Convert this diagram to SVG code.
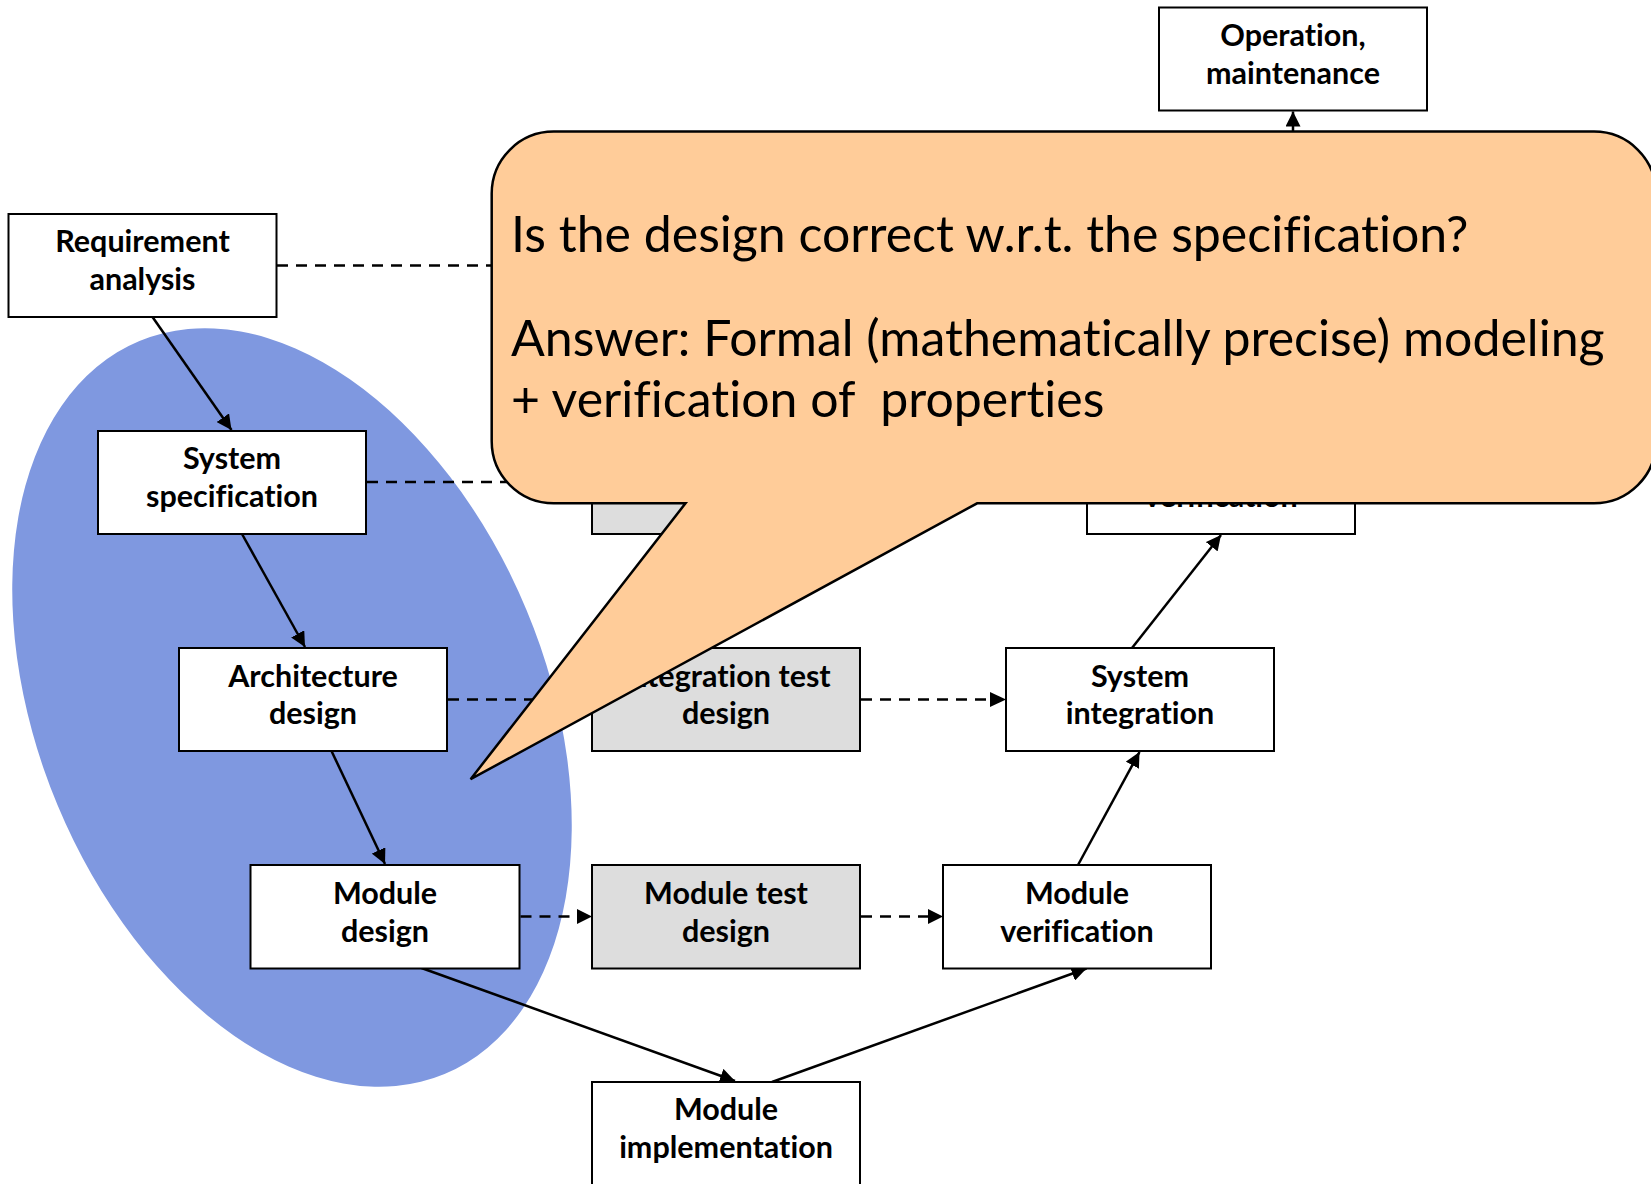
<svg xmlns="http://www.w3.org/2000/svg" width="1651" height="1184" viewBox="0 0 1651 1184">
  <style>
    .box { fill: #ffffff; stroke: #000000; stroke-width: 2; }
    .test { fill: #dddddd; stroke: #000000; stroke-width: 2; }
    .label { font-family: Lato, "Liberation Sans", sans-serif; font-weight: 700; font-size: 30.5px; fill: #000000; text-anchor: middle; font-variant-ligatures: none; }
    .flow { stroke: #000000; stroke-width: 2.5; fill: none; marker-end: url(#arrow); }
    .dash { stroke: #000000; stroke-width: 2.5; fill: none; stroke-dasharray: 11 8; }
    .note { font-family: Lato, "Liberation Sans", sans-serif; font-size: 50px; fill: #000000; font-variant-ligatures: none; }
  </style>
  <defs>
    <marker id="arrow" markerUnits="userSpaceOnUse" markerWidth="16" markerHeight="15" refX="15" refY="7.5" orient="auto">
      <path d="M0,0 L15,7.5 L0,15 Z" fill="#000000"/>
    </marker>
  </defs>

  <rect width="1651" height="1184" fill="#ffffff"/>

  <!-- highlighted design phase -->
  <ellipse id="design-phase" cx="292" cy="707.5" rx="254" ry="397" transform="rotate(-22.6 292 707.5)" fill="#7f98e0"/>

  <!-- connectors -->
  <g id="connectors">
    <line class="flow" x1="152.5" y1="317" x2="231.5" y2="430"/>
    <line class="flow" x1="242" y1="534" x2="305" y2="647"/>
    <line class="flow" x1="331.5" y1="751" x2="385" y2="864"/>
    <line class="flow" x1="421.5" y1="968" x2="735" y2="1081"/>
    <line class="flow" x1="772" y1="1082" x2="1086.5" y2="968.5"/>
    <line class="flow" x1="1078" y1="865" x2="1139.5" y2="752"/>
    <line class="flow" x1="1132" y1="648" x2="1221" y2="535"/>
    <line class="flow" x1="1293" y1="214" x2="1293" y2="111.5"/>
    <line class="dash" x1="277" y1="265.5" x2="520" y2="265.5"/>
    <line class="dash" x1="367" y1="482" x2="560" y2="482"/>
    <line class="dash" x1="448" y1="699.5" x2="580" y2="699.5"/>
    <line class="dash" x1="861" y1="699.5" x2="990" y2="699.5"/>
    <path d="M990,692 L1006,699.5 L990,707 Z" fill="#000000"/>
    <line class="dash" x1="520.5" y1="916.5" x2="578" y2="916.5"/>
    <path d="M577,909 L592,916.5 L577,924 Z" fill="#000000"/>
    <line class="dash" x1="861" y1="916.5" x2="929" y2="916.5"/>
    <path d="M928,909 L943,916.5 L928,924 Z" fill="#000000"/>
  </g>

  <!-- nodes -->
  <g id="operation-maintenance">
    <rect class="box" x="1159" y="7.5" width="268" height="103"/>
    <text class="label" x="1293" y="46">Operation,</text>
    <text class="label" x="1293" y="83.5">maintenance</text>
  </g>
  <g id="requirement-analysis">
    <rect class="box" x="8.5" y="214" width="268" height="103"/>
    <text class="label" x="142.5" y="252">Requirement</text>
    <text class="label" x="142.5" y="289.5">analysis</text>
  </g>
  <g id="system-specification">
    <rect class="box" x="98" y="431" width="268" height="103"/>
    <text class="label" x="232" y="469">System</text>
    <text class="label" x="232" y="506.5">specification</text>
  </g>
  <g id="system-test-design">
    <rect class="test" x="592" y="431" width="268" height="103"/>
  </g>
  <g id="system-verification">
    <rect class="box" x="1087" y="431" width="268" height="103"/>
    <text class="label" x="1221" y="507">verification</text>
  </g>
  <g id="architecture-design">
    <rect class="box" x="179" y="648" width="268" height="103"/>
    <text class="label" x="313" y="686.5">Architecture</text>
    <text class="label" x="313" y="724">design</text>
  </g>
  <g id="integration-test-design">
    <rect class="test" x="592" y="648" width="268" height="103"/>
    <text class="label" x="726" y="686.5">Integration test</text>
    <text class="label" x="726" y="724">design</text>
  </g>
  <g id="system-integration">
    <rect class="box" x="1006" y="648" width="268" height="103"/>
    <text class="label" x="1140" y="686.5">System</text>
    <text class="label" x="1140" y="724">integration</text>
  </g>
  <g id="module-design">
    <rect class="box" x="250.5" y="865" width="269" height="103.5"/>
    <text class="label" x="385" y="903.5">Module</text>
    <text class="label" x="385" y="941.5">design</text>
  </g>
  <g id="module-test-design">
    <rect class="test" x="592" y="865" width="268" height="103.5"/>
    <text class="label" x="726" y="903.5">Module test</text>
    <text class="label" x="726" y="941.5">design</text>
  </g>
  <g id="module-verification">
    <rect class="box" x="943" y="865" width="268" height="103.5"/>
    <text class="label" x="1077" y="903.5">Module</text>
    <text class="label" x="1077" y="941.5">verification</text>
  </g>
  <g id="module-implementation">
    <rect class="box" x="592" y="1082" width="268" height="110"/>
    <text class="label" x="726" y="1120">Module</text>
    <text class="label" x="726" y="1158">implementation</text>
  </g>

  <!-- callout -->
  <g id="callout">
    <path d="M553.7,131.6 H1594 A62,62 0 0 1 1656,193.6 V441.3 A62,62 0 0 1 1594,503.3 H977.1 L470.6,779.2 L685.5,503.3 H553.7 A62,62 0 0 1 491.7,441.3 V193.6 A62,62 0 0 1 553.7,131.6 Z" fill="#ffcc99" stroke="#000000" stroke-width="2.5" stroke-linejoin="miter"/>
    <text class="note" x="511" y="252" xml:space="preserve">Is the design correct w.r.t. the specification?</text>
    <text class="note" x="511" y="356" xml:space="preserve">Answer: Formal (mathematically precise) modeling</text>
    <text class="note" x="511" y="417" xml:space="preserve">+ verification of  properties</text>
  </g>
</svg>
